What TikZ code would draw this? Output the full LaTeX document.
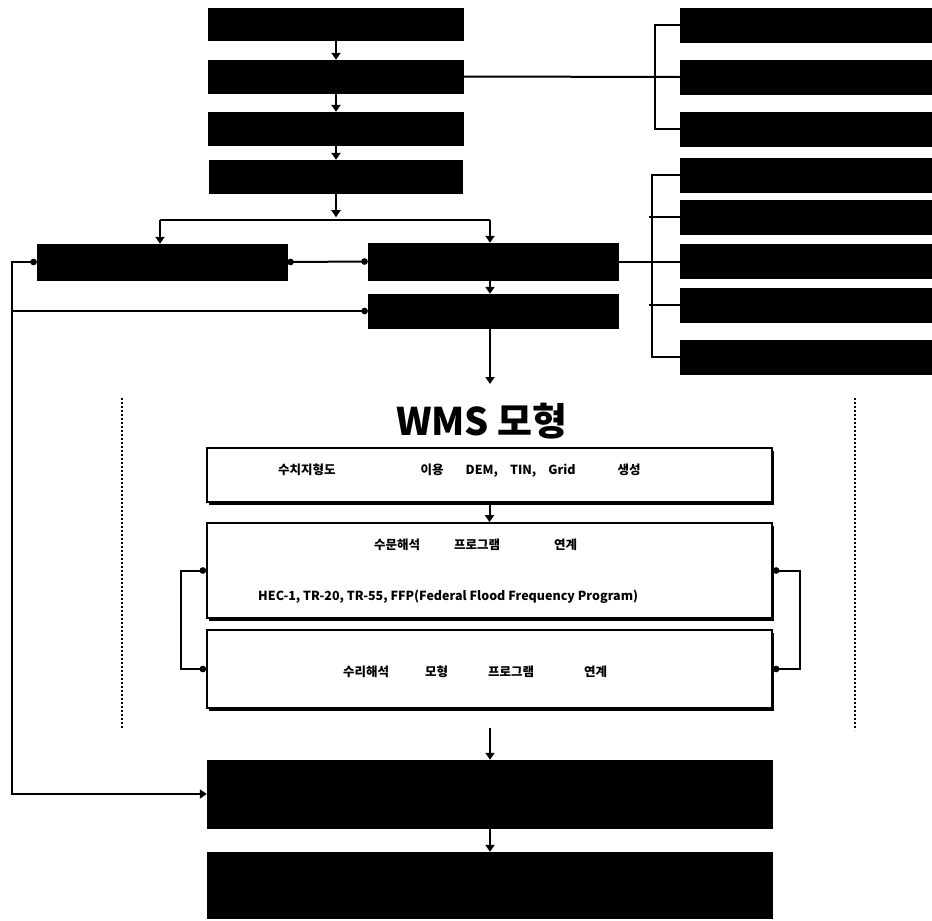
\documentclass[tikz,border=0pt]{standalone}
\usepackage{fontspec}
\setmainfont{Noto Sans CJK KR}
\newfontfamily\kor{Noto Sans CJK KR}
\usetikzlibrary{positioning,arrows.meta,shadows}

\begin{document}
\begin{tikzpicture}[x=1pt, y=-1pt,
    blk/.style={fill=black, draw=black, inner sep=0pt},
    wbox/.style={draw=black, line width=1.8pt, fill=white, inner sep=0pt,
      drop shadow={shadow xshift=2pt, shadow yshift=-3pt, fill=black, opacity=1}},
    txt/.style={font=\kor\bfseries\fontsize{12.5}{14}\selectfont, anchor=west, inner sep=0pt},
    arr/.style={-{Triangle[width=9pt, length=7pt]}, line width=2pt},
    dotarr/.style={{Circle[length=6.5pt]}-{Triangle[width=9pt, length=7pt]}, line width=2pt},
    link/.style={{Circle[length=6.5pt]}-{Circle[length=6.5pt]}, line width=2pt},
    wire/.style={line width=2pt},
    sep/.style={line width=1.5pt, dash pattern=on 2pt off 2pt}]
  \useasboundingbox (0,0) rectangle (932,921);

  % main column
  \node[blk, minimum width=255pt, minimum height=32pt] (b1) at (336,24) {};
  \node[blk, minimum width=255pt, minimum height=33pt] (b2) at (336,76.5) {};
  \node[blk, minimum width=255pt, minimum height=33pt] (b3) at (336,128.5) {};
  \node[blk, minimum width=253pt, minimum height=33pt] (b4) at (336,176.5) {};
  \node[blk, minimum width=250pt, minimum height=36pt] (bl) at (162,262) {};
  \node[blk, minimum width=250pt, minimum height=37pt] (br) at (493,261.5) {};
  \node[blk, minimum width=250pt, minimum height=34pt] (br2) at (493,311) {};

  % right groups
  \foreach \y [count=\i] in {25,77,129}
    \node[blk, minimum width=254pt, minimum height=34pt] (g\i) at (807,\y) {};
  \foreach \y [count=\i] in {175,217,261.5,305,357}
    \node[blk, minimum width=254pt, minimum height=34pt] (h\i) at (807,\y) {};

  \draw[arr] (b1) -- (b2);
  \draw[arr] (b2) -- (b3);
  \draw[arr] (b3) -- (b4);
  \coordinate (jn) at (336,220);
  \coordinate (jl) at (160,220);
  \coordinate (jr) at (490,220);
  \draw[arr] (b4.south) -- ++(0,24);
  \draw[wire] (jl) -- (jr);
  \draw[arr] (jl) -- (jl |- bl.north);
  \draw[arr] (jr) -- (jr |- br.north);
  \draw[link] (bl.east) -- (br.west);
  \draw[arr] (jr |- br.south) -- (jr |- br2.north);

  \draw[wire] (b2.east) -- (g2.west);
  \draw[wire] (g1.west) -- ++(-25,0) |- (g3.west);
  \draw[wire] (br.east) -- (h3.west);
  \draw[wire] (h1.west) -- ++(-28,0) |- (h5.west);
  \draw[wire] (h2.west) -- ++(-31,0);
  \draw[wire] (h4.west) -- ++(-31,0);

  % WMS block
  \coordinate (wmsin) at (490,384);
  \draw[arr] (jr |- br2.south) -- (wmsin);
  \draw[sep] (122,398) -- (122,728);
  \draw[sep] (855,398) -- (855,730);
  \node[font=\kor\bfseries\fontsize{38}{40}\selectfont] (title) at (482,421) {WMS 모형};

  \node[wbox, minimum width=565pt, minimum height=54pt] (w1) at (489.5,475) {};
  \node[txt] (w1t) at (278,471) {수치지형도\hspace{85pt}이용\hspace{22pt}DEM,\hspace{12pt}TIN,\hspace{12pt}Grid\hspace{42pt}생성};
  \node[wbox, minimum width=565pt, minimum height=95pt] (w2) at (489.5,570.5) {};
  \node[txt] (w2t) at (374,545) {수문해석\hspace{34pt}프로그램\hspace{54pt}연계};
  \node[txt] (w2s) at (258,597) {HEC-1, TR-20, TR-55, FFP(Federal Flood Frequency Program)};
  \node[wbox, minimum width=565pt, minimum height=78pt] (w3) at (489.5,669) {};
  \node[txt] (w3t) at (343,672) {수리해석\hspace{36pt}모형\hspace{40pt}프로그램\hspace{50pt}연계};
  \draw[arr] (w1) -- (w2);
  \draw[link] (w2.west) -- ++(-25,0) |- (w3.west);
  \draw[link] (w2.east) -- ++(27,0) |- (w3.east);

  % output
  \node[blk, minimum width=565pt, minimum height=68pt] (b5) at (489.5,794) {};
  \node[blk, minimum width=565pt, minimum height=66pt] (b6) at (489.5,885) {};
  \coordinate (wmsout) at (490,728);
  \draw[arr] (wmsout) -- (wmsout |- b5.north);
  \draw[arr] (wmsout |- b5.south) -- (wmsout |- b6.north);

  % feedback loop
  \coordinate (lb) at (12,262);
  \draw[dotarr] (bl.west) -- (lb) |- (b5.west);
  \draw[{Circle[length=6.5pt]}-, line width=2pt] (br2.west) -- (br2.west -| lb);
\end{tikzpicture}
\end{document}
